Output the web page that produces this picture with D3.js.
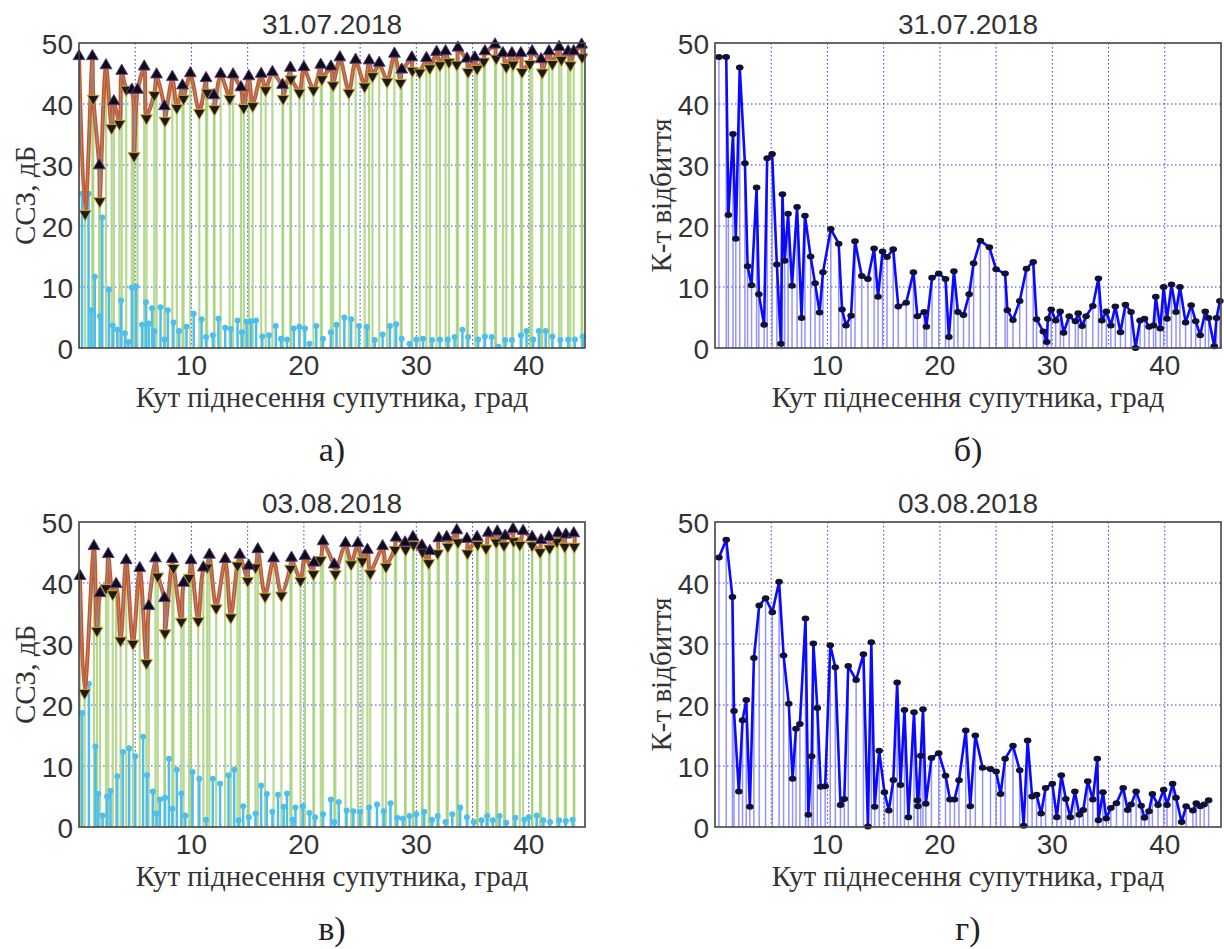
<!DOCTYPE html>
<html lang="uk">
<head>
	<meta charset="utf-8">
	<title>ССЗ та коефіцієнт відбиття</title>
	<script src="https://cdn.jsdelivr.net/npm/d3@7"></script>
	<style>
		body { margin: 0; background: #fff; }
		.tick-label { font-family: Arial, "Liberation Sans", sans-serif; font-size: 28px; fill: #333; }
		.title { font-family: Arial, "Liberation Sans", sans-serif; font-size: 28px; fill: #333; }
		.axis-label { font-family: "Times New Roman", "Liberation Serif", serif; font-size: 29px; fill: #333; }
		.sub-label { font-family: "Times New Roman", "Liberation Serif", serif; font-size: 34px; fill: #222; }
	</style>
</head>
<body>
<div id="chart"></div>
<script>

	// ---- data ----
	const xTicks = [10, 20, 30, 40];
	const yTicks = [0, 10, 20, 30, 40, 50];
	const xGrid = [5, 10, 15, 20, 25, 30, 35, 40];
	const yGrid = [10, 20, 30, 40];
	const titles = ["31.07.2018", "31.07.2018", "03.08.2018", "03.08.2018"];
	const subLabels = ["а)", "б)", "в)", "г)"];
	const xTitle = "Кут піднесення супутника, град";
	const yTitles = ["ССЗ, дБ", "К-т відбиття", "ССЗ, дБ", "К-т відбиття"];

	// panel a: maxima / minima of SNR, and their difference
	const aMaxX = [0, 1.19, 1.8, 2.4, 3.1, 3.8, 4.7, 5.2, 5.8, 6.9, 7.6, 8.3, 9.2, 9.9, 11.3, 12.0, 12.6, 13.7, 14.4, 15.1, 16.2, 17.2, 18.1, 18.8, 20.0, 21.5, 22.4, 23.2, 24.6, 25.8, 26.7, 28.05, 28.7, 29.6, 30.9, 31.8, 32.6, 33.7, 34.5, 35.2, 36.1, 37.0, 37.7, 38.5, 39.3, 40.3, 41.1, 41.8, 42.7, 43.5, 44.0, 44.7];
	const aMaxY = [47.5, 47.5, 29.6, 46, 40.1, 45.1, 42, 42, 45.8, 44.5, 39.3, 44.1, 42.7, 44.7, 43.9, 41.1, 44.6, 44.5, 42.4, 44.2, 44.6, 44.9, 42.8, 45.6, 45.7, 46.1, 45.8, 47.3, 46.9, 46.8, 46.4, 47.9, 45.3, 47.3, 47.2, 48.2, 48.3, 48.9, 47.1, 47.3, 48.3, 49.4, 48, 48, 48, 48.3, 47, 48.3, 49, 48.3, 48.3, 49.4];
	const aMinX = [0.55, 1.27, 1.85, 2.9, 3.6, 4.2, 4.9, 6.0, 6.7, 7.65, 8.7, 9.3, 10.7, 11.4, 12.05, 13.4, 14.65, 15.45, 16.6, 18.15, 18.85, 19.6, 20.85, 21.6, 22.6, 24.0, 25.4, 26.1, 27.4, 28.6, 29.65, 30.3, 31.2, 32.1, 32.9, 33.6, 34.6, 35.4, 36.0, 37.1, 38.0, 38.6, 39.4, 40.1, 41.2, 42.1, 42.9, 43.7, 44.75];
	const aMinY = [22.3, 41.2, 24.4, 36.4, 37.1, 42.7, 31.8, 38, 41.8, 37.6, 39.7, 41.2, 38.9, 42.2, 39.5, 41.2, 39.7, 40, 42.6, 41.2, 44.4, 42.2, 42.6, 44.4, 43.4, 42.2, 43.2, 44.9, 44, 43.8, 45.8, 45.5, 46.2, 46.7, 47.2, 46.8, 45.6, 46.1, 47.3, 47.8, 46.4, 46.8, 45.6, 46.9, 45.5, 46.9, 47.6, 46.7, 48];
	const aDifX = [0.27, 0.85, 1.1, 1.4, 1.87, 2.07, 2.65, 3.0, 3.4, 3.74, 4.08, 4.4, 4.7, 5.07, 5.6, 5.95, 6.2, 6.5, 6.7, 7.25, 7.6, 7.9, 8.4, 8.9, 9.56, 10.2, 10.9, 11.3, 11.9, 12.4, 13.0, 13.5, 14.1, 14.5, 14.9, 15.3, 15.75, 16.3, 16.9, 17.5, 17.96, 18.5, 19.1, 19.6, 20.1, 20.5, 21.1, 21.7, 22.4, 22.9, 23.6, 24.2, 24.9, 25.6, 26.3, 27.0, 27.65, 28.2, 28.7, 29.4, 30.0, 30.6, 31.4, 32.1, 32.8, 33.4, 34.1, 34.6, 35.5, 36.1, 36.7, 37.3, 37.9, 38.5, 39.3, 39.8, 40.4, 40.9, 41.5, 42.1, 42.8, 43.5, 44.1, 44.8];
	const aDifY = [25.3, 25.3, 6.2, 11.7, 5.2, 21.4, 9.6, 3.7, 3.0, 7.8, 2.4, 1.0, 9.9, 10.1, 3.8, 7.5, 4.0, 6.5, 2.8, 6.7, 1.4, 6.2, 4.2, 2.8, 3.5, 5.6, 4.7, 1.8, 2.1, 4.8, 3.3, 3.1, 4.5, 2.6, 4.3, 4.4, 4.5, 1.9, 2.1, 3.6, 1.5, 1.4, 3.2, 3.5, 3.2, 0.7, 3.6, 1.5, 2.6, 3.8, 5.0, 4.7, 3.6, 3.5, 1.3, 2.2, 3.6, 3.9, 1.5, 0.7, 1.4, 1.5, 1.3, 1.4, 1.4, 1.8, 3.0, 1.8, 1.4, 1.9, 1.8, 0.2, 1.3, 1.3, 2.1, 2.8, 1.4, 2.8, 2.8, 1.9, 1.3, 1.4, 1.4, 1.9];

	// panel b: reflection coefficient, 31.07.2018
	const bX = [0.35, 1.0, 1.19, 1.6, 1.85, 2.2, 2.66, 2.9, 3.25, 3.7, 3.9, 4.37, 4.64, 5.08, 5.5, 5.86, 6.0, 6.2, 6.5, 6.85, 7.3, 7.7, 8.0, 8.5, 8.9, 9.3, 9.6, 10.3, 11.0, 11.3, 11.65, 12.1, 12.45, 13.05, 13.6, 14.15, 14.5, 14.9, 15.3, 15.85, 16.3, 17.0, 17.65, 18.0, 18.6, 18.8, 19.3, 19.9, 20.5, 20.8, 21.25, 21.6, 22.1, 22.6, 23.0, 23.6, 24.4, 25.0, 25.8, 26.0, 26.5, 27.1, 27.7, 28.3, 28.6, 29.2, 29.5, 29.6, 29.9, 30.3, 30.7, 31.0, 31.5, 32.05, 32.3, 32.65, 33.0, 33.6, 34.1, 34.4, 34.8, 35.2, 35.6, 36.06, 36.5, 37.0, 37.4, 37.8, 38.2, 38.6, 39.0, 39.2, 39.6, 39.9, 40.2, 40.6, 41.0, 41.35, 41.85, 42.35, 42.75, 43.15, 43.6, 43.9, 44.4, 44.6, 44.9];
	const bY = [47.7, 47.7, 21.8, 35.1, 17.9, 46, 30.3, 13.4, 10.3, 26.3, 8.8, 3.8, 31.1, 31.8, 13.7, 0.7, 25.2, 14.3, 22, 10.2, 23.1, 4.9, 21.7, 15, 10.6, 5.8, 12.4, 19.5, 17.1, 6.3, 3.7, 5.3, 17.5, 11.8, 11.3, 16.3, 8.4, 15.8, 14.9, 16.2, 6.8, 7.4, 12.4, 5.2, 5.9, 3.5, 11.5, 12.2, 11.3, 1.8, 12.6, 5.9, 5.4, 8.8, 13.9, 17.6, 16.5, 12.9, 12.2, 6.2, 4.6, 7.7, 13.0, 14.1, 4.7, 2.7, 1.0, 4.8, 6.3, 4.5, 6.0, 2.5, 5.2, 4.4, 5.7, 3.6, 5.2, 6.9, 11.4, 4.5, 6.0, 3.7, 6.8, 2.6, 7.1, 5.9, 0, 4.5, 4.8, 3.5, 3.7, 8.4, 3.2, 10, 4.8, 10.4, 5.9, 10, 4.2, 7.0, 4.4, 2.1, 6.0, 4.9, 0.3, 4.9, 7.7];

	// panel c: maxima / minima of SNR, and their difference
	const cMaxX = [0.09, 1.33, 1.87, 2.6, 3.3, 4.2, 5.4, 6.2, 6.8, 7.6, 8.3, 9.3, 9.96, 11.06, 11.6, 13.0, 14.3, 15.1, 15.9, 17.3, 18.9, 20.1, 20.9, 21.7, 22.7, 23.7, 24.8, 25.65, 27.0, 28.2, 29.0, 29.7, 30.5, 31.2, 32.0, 32.7, 33.6, 34.5, 35.4, 36.4, 37.2, 37.9, 38.6, 39.5, 40.3, 41.1, 41.8, 42.6, 43.3, 44.0];
	const cMaxY = [40.8, 45.7, 38, 44.4, 39.5, 43.4, 42.1, 35.9, 43.7, 37.2, 43.6, 39.7, 43.4, 42.2, 44.3, 43.6, 44.3, 42.5, 45.2, 43.7, 43.8, 44.1, 43, 46.5, 42.7, 46.2, 46.2, 45.1, 45.7, 47.1, 46.3, 47.2, 45.8, 44.9, 47, 47.2, 48.3, 46.9, 47.2, 47.9, 48.1, 47.4, 48.5, 48.2, 47.2, 46.7, 47.2, 47.8, 47.6, 47.8];
	const cMinX = [0.5, 1.6, 2.4, 3.0, 3.7, 4.8, 6.0, 7.0, 7.65, 8.4, 9.1, 9.8, 10.6, 11.4, 12.2, 13.5, 14.1, 15.0, 15.7, 16.55, 18.0, 18.8, 19.7, 20.85, 21.5, 22.8, 24.2, 25.2, 25.9, 27.3, 28.1, 29.05, 29.75, 30.55, 31.1, 31.9, 32.8, 33.7, 34.55, 35.45, 36.2, 37.1, 37.8, 38.65, 39.2, 40.3, 41.0, 41.85, 42.5, 43.2, 44.05];
	const cMinY = [22.3, 32.5, 39.5, 38.5, 30.9, 30.4, 27.2, 41.4, 32.1, 42.8, 34, 41.2, 34.1, 42.9, 36.2, 34.7, 43.2, 40.7, 42.9, 38.1, 38.3, 42.7, 40.7, 41.8, 44.1, 41.8, 43.4, 43.9, 41.9, 43, 45.8, 45.8, 46.6, 45.4, 43.6, 45.2, 46.3, 47, 45.2, 46.6, 46, 47, 46.5, 47.2, 46.6, 46.5, 45.4, 46, 47.1, 46.3, 46.3];
	const cDifX = [0.27, 0.88, 1.46, 1.7, 2.1, 2.5, 2.8, 3.4, 3.9, 4.46, 5.0, 5.7, 6.05, 6.56, 6.9, 7.2, 7.65, 8.0, 8.3, 8.7, 9.1, 9.46, 10.1, 10.7, 11.3, 11.9, 12.55, 13.3, 13.8, 14.2, 14.6, 15.1, 15.7, 16.2, 16.7, 17.2, 17.7, 18.2, 18.5, 19.0, 19.25, 19.9, 20.5, 21.0, 21.7, 22.4, 22.7, 23.1, 23.8, 24.4, 25.0, 25.8, 26.5, 27.1, 27.7, 28.3, 28.8, 29.4, 30.0, 30.7, 31.4, 31.9, 32.6, 33.2, 33.9, 34.5, 35.1, 35.8, 36.3, 36.8, 37.4, 38.0, 38.8, 39.6, 40.0, 40.7, 41.3, 41.9, 42.7, 43.3, 43.9];
	const cDifY = [18.7, 23.5, 13.2, 5.4, 1.9, 5.0, 5.9, 8.3, 12.3, 12.9, 11.6, 14.8, 8.5, 5.8, 2.2, 4.5, 4.8, 11.2, 3.0, 9.4, 5.5, 1.9, 9.0, 7.9, 1.2, 7.9, 7.1, 8.5, 9.4, 1.1, 3.4, 1.6, 2.2, 6.8, 5.4, 2.5, 5.3, 3.3, 5.5, 1.2, 3.2, 3.4, 2.3, 1.6, 2.1, 4.5, 0.8, 4.1, 2.7, 2.6, 2.5, 3.2, 3.7, 2.6, 3.9, 1.5, 1.4, 1.8, 2.1, 2.5, 1.2, 1.8, 0.8, 2.1, 3.2, 1.6, 0.8, 1.1, 1.8, 1.1, 1.8, 0.7, 1.5, 1.2, 1.6, 1.9, 1.1, 0.8, 1.1, 1.0, 1.2];

	// panel d: reflection coefficient, 03.08.2018
	const dX = [0.35, 1.0, 1.55, 1.69, 2.12, 2.45, 2.78, 3.1, 3.46, 3.93, 4.5, 5.1, 5.7, 6.1, 6.56, 6.9, 7.2, 7.55, 8.05, 8.3, 8.6, 8.75, 9.1, 9.4, 9.8, 10.25, 10.7, 11.16, 11.5, 11.85, 12.55, 13.2, 13.6, 13.9, 14.2, 14.6, 15.07, 15.46, 15.86, 16.2, 16.5, 16.85, 17.2, 17.7, 18.0, 18.05, 18.3, 18.5, 18.75, 19.25, 19.9, 20.5, 20.9, 21.3, 21.7, 22.3, 22.7, 23.15, 23.8, 24.5, 25.0, 25.4, 25.8, 26.5, 27.1, 27.45, 27.8, 28.2, 28.6, 29.0, 29.4, 30.0, 30.4, 30.8, 31.2, 31.6, 32.0, 32.4, 32.75, 33.15, 33.6, 34.0, 34.1, 34.5, 34.8, 35.2, 35.7, 36.3, 36.7, 37.0, 37.45, 37.9, 38.2, 38.6, 38.9, 39.4, 39.9, 40.2, 40.7, 41.0, 41.5, 41.9, 42.5, 42.8, 43.15, 43.5, 43.9];
	const dY = [44.2, 47.1, 37.7, 19.0, 5.8, 17.5, 20.8, 3.3, 27.7, 36.3, 37.5, 35.2, 40.2, 28.1, 20.2, 7.9, 16.1, 16.9, 34.2, 2.0, 11.6, 30.1, 19.5, 6.6, 6.7, 29.8, 26.2, 3.6, 4.6, 26.4, 24.1, 28.3, 0.1, 30.3, 3.3, 12.5, 5.7, 2.7, 7.7, 23.7, 6.9, 19.2, 1.6, 18.8, 4.4, 3.4, 11.7, 19.3, 3.8, 11.3, 12.1, 8.4, 4.5, 4.5, 7.65, 15.8, 3.4, 15.0, 9.7, 9.5, 9.1, 5.4, 11.2, 13.3, 9.3, 0.2, 14.2, 5.0, 5.3, 2.2, 6.4, 7.1, 1.6, 8.5, 4.6, 1.6, 5.8, 2.0, 2.8, 7.5, 4.5, 11.2, 1.1, 5.7, 1.4, 3.1, 3.9, 6.4, 2.8, 3.7, 5.8, 3.5, 1.5, 2.6, 5.4, 3.6, 6.1, 3.6, 7.1, 4.8, 0.8, 3.4, 2.7, 3.9, 3.4, 3.7, 4.4];

	// ---- layout ----
	const W = 1224, H = 949;
	const plotW = 506, plotH = 305;
	const panels = [
		{ left: 79,  top: 43,  kind: "snr",  max: [aMaxX, aMaxY], min: [aMinX, aMinY], dif: [aDifX, aDifY] },
		{ left: 715, top: 43,  kind: "refl", pts: [bX, bY] },
		{ left: 79,  top: 522, kind: "snr",  max: [cMaxX, cMaxY], min: [cMinX, cMinY], dif: [cDifX, cDifY] },
		{ left: 715, top: 522, kind: "refl", pts: [dX, dY] }
	];

	const svg = d3.select("#chart").append("svg")
		.attr("width", W)
		.attr("height", H);

	svg.append("rect").attr("width", W).attr("height", H).attr("fill", "#fff");

	const zip = (xs, ys) => xs.map((x, i) => ({ x: x, y: ys[i] }));

	panels.forEach(function(p, k) {

		const x = d3.scaleLinear().domain([0, 45]).range([0, plotW]);
		const y = d3.scaleLinear().domain([0, 50]).range([plotH, 0]);

		const g = svg.append("g")
			.attr("transform", "translate(" + p.left + "," + p.top + ")");

		g.append("defs").append("clipPath")
			.attr("id", "clip" + k)
			.append("rect")
			.attr("width", plotW)
			.attr("height", plotH);

		// dotted grid
		g.append("g").selectAll("line")
			.data(xGrid).join("line")
			.attr("x1", d => x(d)).attr("x2", d => x(d))
			.attr("y1", 0).attr("y2", plotH)
			.attr("stroke", "#3b3be0").attr("stroke-width", 1)
			.attr("stroke-dasharray", "1.5,2.5");
		g.append("g").selectAll("line")
			.data(yGrid).join("line")
			.attr("x1", 0).attr("x2", plotW)
			.attr("y1", d => y(d)).attr("y2", d => y(d))
			.attr("stroke", "#3b3be0").attr("stroke-width", 1)
			.attr("stroke-dasharray", "1.5,2.5");

		const marks = g.append("g").attr("clip-path", "url(#clip" + k + ")");

		if (p.kind === "snr") {
			const maxPts = zip(p.max[0], p.max[1]);
			const minPts = zip(p.min[0], p.min[1]);
			const sig = maxPts.concat(minPts).sort((a, b) => a.x - b.x);
			const dif = zip(p.dif[0], p.dif[1]);

			// green stems under the signal
			marks.append("g").selectAll("line")
				.data(sig).join("line")
				.attr("x1", d => x(d.x)).attr("x2", d => x(d.x))
				.attr("y1", y(0)).attr("y2", d => y(d.y))
				.attr("stroke", "#a3cf74").attr("stroke-opacity", 0.8)
				.attr("stroke-width", 2.2);

			// difference stems
			marks.append("g").selectAll("line")
				.data(dif).join("line")
				.attr("x1", d => x(d.x)).attr("x2", d => x(d.x))
				.attr("y1", y(0)).attr("y2", d => y(d.y))
				.attr("stroke", "#4dbeee")
				.attr("stroke-width", 2.5);
			marks.append("g").selectAll("circle")
				.data(dif).join("circle")
				.attr("cx", d => x(d.x)).attr("cy", d => y(d.y))
				.attr("r", 3)
				.attr("fill", "#4dbeee");

			// signal
			const line = d3.line()
				.x(d => x(d.x))
				.y(d => y(d.y))
				.curve(d3.curveCatmullRom.alpha(0.5));
			marks.append("path").datum(sig)
				.attr("d", line)
				.attr("fill", "none")
				.attr("stroke", "#d95319")
				.attr("stroke-width", 4);
			marks.append("path").datum(sig)
				.attr("d", line)
				.attr("fill", "none")
				.attr("stroke", "#7d95aa")
				.attr("stroke-width", 1.2);

			// maxima (up) / minima (down) markers
			const tri = d3.symbol().type(d3.symbolTriangle).size(60);
			g.append("g").selectAll("path")
				.data(minPts).join("path")
				.attr("d", tri)
				.attr("transform", d => "translate(" + x(d.x) + "," + (y(d.y) + 2) + ") rotate(180)")
				.attr("fill", "#1a1a1a")
				.attr("stroke", "#c9a227")
				.attr("stroke-width", 1);
			g.append("g").selectAll("path")
				.data(maxPts).join("path")
				.attr("d", tri)
				.attr("transform", d => "translate(" + x(d.x) + "," + (y(d.y) - 2) + ")")
				.attr("fill", "#0d0d1a")
				.attr("stroke", "#5a3a7a")
				.attr("stroke-width", 1);

		} else {
			const pts = zip(p.pts[0], p.pts[1]);

			// thin stems
			marks.append("g").selectAll("line")
				.data(pts).join("line")
				.attr("x1", d => x(d.x)).attr("x2", d => x(d.x))
				.attr("y1", y(0)).attr("y2", d => y(d.y))
				.attr("stroke", "#5a5aff").attr("stroke-opacity", 0.65)
				.attr("stroke-width", 1.5);

			marks.append("path").datum(pts)
				.attr("d", d3.line().x(d => x(d.x)).y(d => y(d.y)))
				.attr("fill", "none")
				.attr("stroke", "#0a0aff")
				.attr("stroke-width", 2.6)
				.attr("stroke-linejoin", "round");

			g.append("g").selectAll("ellipse")
				.data(pts).join("ellipse")
				.attr("cx", d => x(d.x)).attr("cy", d => y(d.y))
				.attr("rx", 3.8).attr("ry", 3)
				.attr("fill", "#111133");
		}

		// axes box
		g.append("rect")
			.attr("width", plotW).attr("height", plotH)
			.attr("fill", "none")
			.attr("stroke", "#444")
			.attr("stroke-width", 1.6);

		// tick labels
		g.append("g").selectAll("text")
			.data(yTicks).join("text")
			.attr("class", "tick-label")
			.attr("x", -6)
			.attr("y", d => y(d) + 11)
			.attr("text-anchor", "end")
			.text(d => d);
		g.append("g").selectAll("text")
			.data(xTicks).join("text")
			.attr("class", "tick-label")
			.attr("x", d => x(d))
			.attr("y", plotH + 27)
			.attr("text-anchor", "middle")
			.text(d => d);

		// title and axis labels
		g.append("text")
			.attr("class", "title")
			.attr("x", plotW / 2)
			.attr("y", -9)
			.attr("text-anchor", "middle")
			.text(titles[k]);
		g.append("text")
			.attr("class", "axis-label")
			.attr("x", plotW / 2)
			.attr("y", plotH + 59)
			.attr("text-anchor", "middle")
			.text(xTitle);
		g.append("text")
			.attr("class", "axis-label")
			.attr("transform", "translate(" + (-44) + "," + (plotH / 2) + ") rotate(-90)")
			.attr("text-anchor", "middle")
			.text(yTitles[k]);
		g.append("text")
			.attr("class", "sub-label")
			.attr("x", plotW / 2)
			.attr("y", plotH + 113)
			.attr("text-anchor", "middle")
			.text(subLabels[k]);
	});

</script>
</body>
</html>
